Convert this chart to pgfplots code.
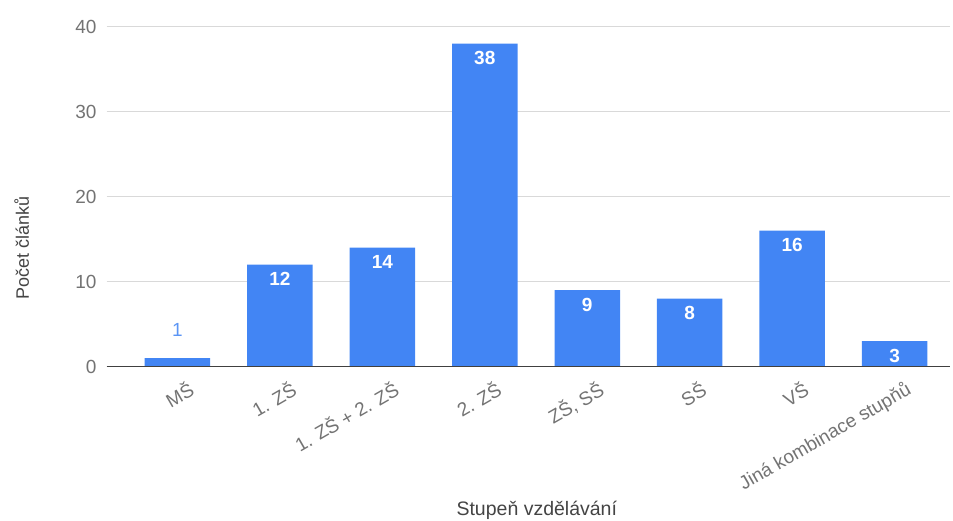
\documentclass[border=0pt]{standalone}
\usepackage{fontspec}
\setmainfont{Liberation Sans}
\usepackage{pgfplots}
\pgfplotsset{compat=1.18}
\definecolor{barblue}{HTML}{4285F4}
\definecolor{labelblue}{HTML}{5B95F5}
\definecolor{txtgrey}{HTML}{737373}
\definecolor{titlegrey}{HTML}{444444}
\definecolor{gridgrey}{HTML}{D9D9D9}
\begin{document}
\begin{tikzpicture}
\begin{axis}[
  at={(0pt,0pt)}, anchor=south west,
  scale only axis, width=843.3pt, height=340pt,
  xmin=-0.69, xmax=7.54, ymin=0, ymax=40,
  clip=false,
  axis line style={draw=none},
  major tick length=0pt,
  ytick={0,10,20,30,40},
  ymajorgrids, grid style={gridgrey, line width=1pt},
  xtick={0,1,2,3,4,5,6,7},
  xticklabels={MŠ, 1. ZŠ, 1. ZŠ + 2. ZŠ, 2. ZŠ, {ZŠ, SŠ}, SŠ, VŠ, Jiná kombinace stupňů},
  /pgf/number format/assume math mode=true,
  xticklabel style={xshift=10pt, yshift=-13pt, rotate=30, anchor=north east, inner sep=0pt, text=txtgrey, font=\fontsize{19}{19}\selectfont},
  yticklabel style={xshift=-10pt, anchor=east, inner sep=0pt, text=txtgrey, font=\fontsize{19}{19}\selectfont},
  xlabel={Stupeň vzdělávání},
  xlabel style={at={(axis description cs:0.51,-0.4294)}, anchor=center, yshift=2pt, text=titlegrey, font=\fontsize{19.5}{19.5}\selectfont},
  ylabel={Počet článků},
  ylabel style={at={(axis description cs:-0.1008,0.35)}, anchor=center, rotate=0, text=titlegrey, font=\fontsize{18}{18}\selectfont},
]
\addplot[ybar, bar width=65.5pt, bar shift=0pt, fill=barblue, draw=none]
  coordinates {(0,1) (1,12) (2,14) (3,38) (4,9) (5,8) (6,16) (7,3)};
\addplot[ybar, bar width=65.5pt, bar shift=0pt, draw=none, fill=none,
  nodes near coords, point meta=y,
  nodes near coords style={yshift=-7.5pt, anchor=north, inner sep=0pt, text=white, font=\bfseries\fontsize{19}{19}\selectfont}]
  coordinates {(1,12) (2,14) (3,38) (4,9) (5,8) (6,16) (7,3)};
\addplot[ybar, bar width=65.5pt, bar shift=0pt, draw=none, fill=none,
  nodes near coords, point meta=y,
  nodes near coords style={yshift=28.5pt, anchor=center, inner sep=0pt, text=labelblue, font=\fontsize{19}{19}\selectfont}]
  coordinates {(0,1)};
\draw[color=black!75, line width=1.3pt] (axis cs:-0.69,0) -- (axis cs:7.54,0);
\end{axis}
\pgfresetboundingbox
\path[use as bounding box] (-106.7pt,-153.3pt) rectangle (846.3pt,366.7pt);
\end{tikzpicture}
\end{document}
